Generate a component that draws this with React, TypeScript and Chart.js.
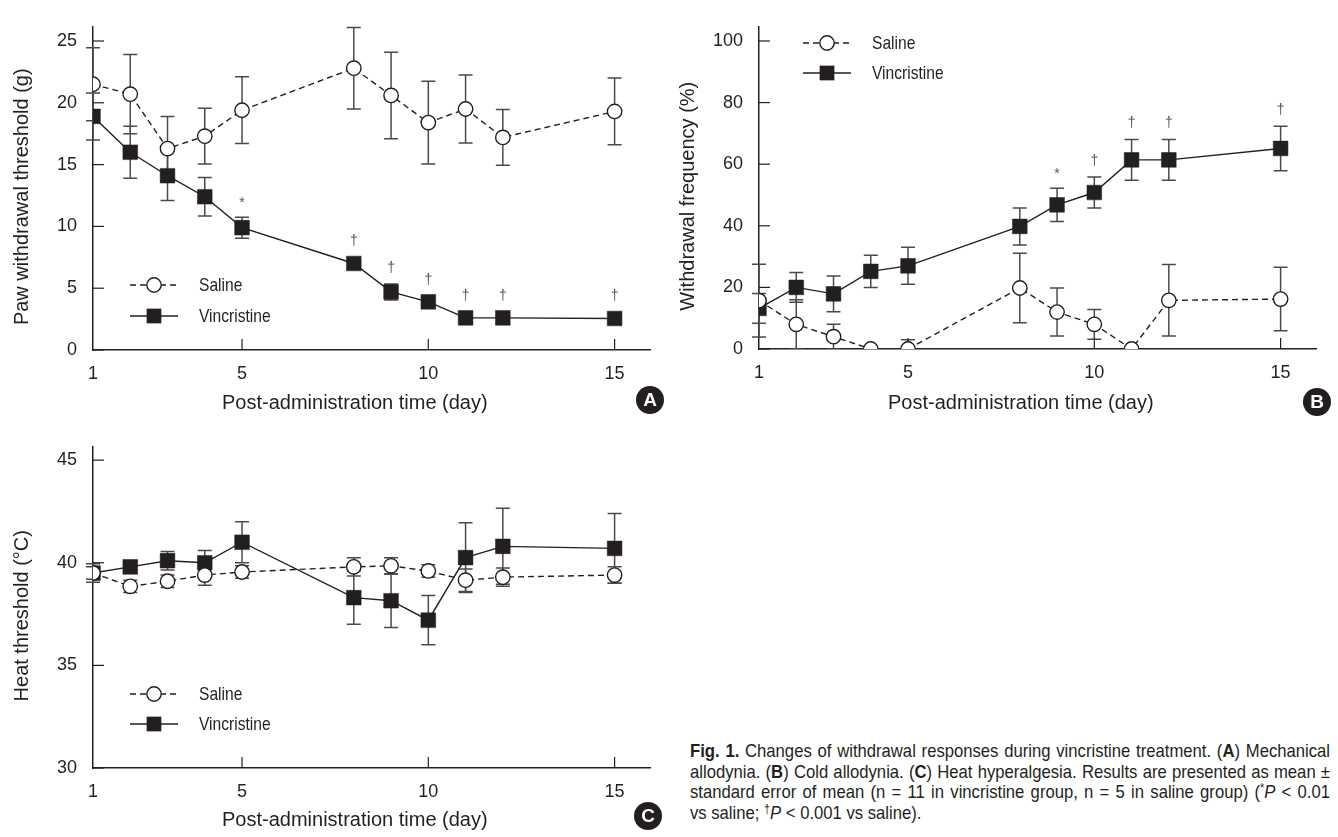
import React, { useEffect, useRef } from "react";
import { Chart, registerables } from "chart.js";

Chart.register(...registerables);

const FONT = "'Liberation Sans', Arial, Helvetica, sans-serif";
const INK = "#231f20";
const BAR = "#4a4a4a";
const NARROW_RATIO = 0.82;
const CAPTION_RATIO = 0.9;

// ---- shared x data ----
const days = [1, 2, 3, 4, 5, 8, 9, 10, 11, 12, 15];
const xTickValues = [1, 5, 10, 15];
const seriesLabels = ["Saline", "Vincristine"];
const xTitle = "Post-administration time (day)";

// ---- Panel A: mechanical allodynia ----
const aSalineMean = [21.5, 20.7, 16.3, 17.3, 19.4, 22.8, 20.6, 18.4, 19.5, 17.2, 19.3];
const aSalineSem = [2.95, 3.2, 2.6, 2.25, 2.7, 3.3, 3.5, 3.35, 2.75, 2.25, 2.7];
const aVincMean = [18.9, 16.0, 14.1, 12.4, 9.9, 7.0, 4.7, 3.9, 2.6, 2.6, 2.55];
const aVincSem = [1.9, 2.1, 2.0, 1.55, 0.85, 0.4, 0.65, 0.4, 0.35, 0.35, 0.35];
const aMarks = ["", "", "", "", "*", "†", "†", "†", "†", "†", "†"];
const aYTicks = [0, 5, 10, 15, 20, 25];
const aYTitle = "Paw withdrawal threshold (g)";

// ---- Panel B: cold allodynia ----
const bSalineMean = [15.7, 8.0, 4.0, 0, 0, 19.8, 12.0, 8.0, 0, 15.8, 16.2];
const bSalineSem = [11.8, 8.0, 4.0, 0, 3.0, 11.3, 7.8, 4.8, 0, 11.6, 10.3];
const bVincMean = [13.2, 20.0, 17.9, 25.2, 27.0, 39.8, 46.8, 50.8, 61.4, 61.4, 65.1];
const bVincSem = [4.8, 4.8, 5.8, 5.2, 6.0, 6.0, 5.4, 5.0, 6.6, 6.6, 7.2];
const bMarks = ["", "", "", "", "", "", "*", "†", "†", "†", "†"];
const bYTicks = [0, 20, 40, 60, 80, 100];
const bYTitle = "Withdrawal frequency (%)";

// ---- Panel C: heat hyperalgesia ----
const cSalineMean = [39.5, 38.85, 39.1, 39.4, 39.55, 39.8, 39.85, 39.6, 39.15, 39.3, 39.4];
const cSalineSem = [0.3, 0.3, 0.3, 0.5, 0.3, 0.45, 0.4, 0.3, 0.55, 0.45, 0.4];
const cVincMean = [39.5, 39.8, 40.1, 40.0, 41.0, 38.3, 38.15, 37.2, 40.25, 40.8, 40.7];
const cVincSem = [0.45, 0.3, 0.45, 0.6, 1.0, 1.3, 1.3, 1.2, 1.7, 1.85, 1.7];
const cMarks = ["", "", "", "", "", "", "", "", "", "", ""];
const cYTicks = [30, 35, 40, 45];
const cYTitle = "Heat threshold (°C)";

type PanelCfg = {
  yMin: number;
  yMax: number;
  yTicks: number[];
  yTitle: string;
  salMean: number[];
  salSem: number[];
  vinMean: number[];
  vinSem: number[];
  marks: string[];
  legend: { x: number; ys: number[] };
  badge: { x: number; y: number; letter: string };
  yAxisWidth: number;
  xAxisHeight: number;
  padRight: number;
  yTitlePad: number;
};

const errorBarPlugin = {
  id: "errorBars",
  beforeDatasetsDraw(chart: any, _args: any, opts: any) {
    const { ctx, chartArea } = chart;
    const yScale = chart.scales.y;
    ctx.save();
    ctx.beginPath();
    ctx.rect(chartArea.left - 12, chartArea.top - 2, chartArea.right - chartArea.left + 24, chartArea.bottom - chartArea.top + 2);
    ctx.clip();
    ctx.strokeStyle = BAR;
    ctx.lineWidth = 1.5;
    chart.data.datasets.forEach((ds: any, i: number) => {
      const meta = chart.getDatasetMeta(i);
      const errs: number[] = opts.errors[i];
      meta.data.forEach((pt: any, j: number) => {
        const e = errs[j];
        if (!e) return;
        const v = ds.data[j].y;
        const yT = yScale.getPixelForValue(v + e);
        const yB = yScale.getPixelForValue(v - e);
        const x = pt.x;
        ctx.beginPath();
        ctx.moveTo(x, yT);
        ctx.lineTo(x, yB);
        ctx.moveTo(x - 7, yT);
        ctx.lineTo(x + 7, yT);
        ctx.moveTo(x - 7, yB);
        ctx.lineTo(x + 7, yB);
        ctx.stroke();
      });
    });
    ctx.restore();
  },
};

const innerTicksPlugin = {
  id: "innerTicks",
  beforeDatasetsDraw(chart: any) {
    const { ctx, chartArea } = chart;
    const xs = chart.scales.x;
    const ys = chart.scales.y;
    ctx.save();
    ctx.strokeStyle = INK;
    ctx.lineWidth = 1.2;
    ys.ticks.forEach((t: any) => {
      const y = ys.getPixelForValue(t.value);
      ctx.beginPath();
      ctx.moveTo(chartArea.left, y);
      ctx.lineTo(chartArea.left + 11, y);
      ctx.stroke();
    });
    xs.ticks.forEach((t: any) => {
      if (t.value === xs.min) return;
      const x = xs.getPixelForValue(t.value);
      ctx.beginPath();
      ctx.moveTo(x, chartArea.bottom);
      ctx.lineTo(x, chartArea.bottom - 11);
      ctx.stroke();
    });
    ctx.restore();
  },
};

const legendPlugin = {
  id: "lineLegend",
  afterDraw(chart: any, _args: any, opts: any) {
    const { ctx } = chart;
    ctx.save();
    chart.data.datasets.forEach((ds: any, i: number) => {
      const y = opts.ys[i];
      const x0 = opts.x;
      const x1 = x0 + 48;
      const cx = (x0 + x1) / 2;
      ctx.strokeStyle = ds.borderColor;
      ctx.lineWidth = ds.borderWidth;
      ctx.setLineDash(ds.borderDash || []);
      ctx.beginPath();
      ctx.moveTo(x0, y);
      ctx.lineTo(x1, y);
      ctx.stroke();
      ctx.setLineDash([]);
      if (ds.pointStyle === "circle") {
        ctx.beginPath();
        ctx.arc(cx, y, ds.pointRadius, 0, Math.PI * 2);
        ctx.fillStyle = ds.pointBackgroundColor;
        ctx.fill();
        ctx.lineWidth = ds.pointBorderWidth;
        ctx.strokeStyle = ds.pointBorderColor;
        ctx.stroke();
      } else {
        const h = ds.pointRadius * Math.SQRT1_2;
        ctx.fillStyle = ds.pointBackgroundColor;
        ctx.fillRect(cx - h, y - h, 2 * h, 2 * h);
      }
      ctx.save();
      ctx.translate(x0 + 69, y + 1);
      ctx.scale(NARROW_RATIO, 1);
      ctx.fillStyle = INK;
      ctx.font = `19px ${FONT}`;
      ctx.textBaseline = "middle";
      ctx.textAlign = "left";
      ctx.fillText(ds.label, 0, 0);
      ctx.restore();
    });
    ctx.restore();
  },
};

const marksPlugin = {
  id: "sigMarks",
  afterDatasetsDraw(chart: any, _args: any, opts: any) {
    const { ctx } = chart;
    const ys = chart.scales.y;
    const meta = chart.getDatasetMeta(1);
    const ds = chart.data.datasets[1];
    ctx.save();
    ctx.fillStyle = "#555";
    ctx.textAlign = "center";
    ctx.textBaseline = "middle";
    ctx.font = `14px ${FONT}`;
    (opts.marks as string[]).forEach((m, j) => {
      if (!m) return;
      const v = ds.data[j].y;
      const e = opts.errors[j];
      const pt = meta.data[j];
      const y = Math.min(ys.getPixelForValue(v) - 22, ys.getPixelForValue(v + e) - 16);
      ctx.fillText(m, pt.x, y + (m === "*" ? 2 : 0));
    });
    ctx.restore();
  },
};

const badgePlugin = {
  id: "badge",
  afterDraw(chart: any, _args: any, opts: any) {
    const { ctx } = chart;
    ctx.save();
    ctx.beginPath();
    ctx.arc(opts.x, opts.y, 14, 0, Math.PI * 2);
    ctx.fillStyle = INK;
    ctx.fill();
    ctx.fillStyle = "#fff";
    ctx.font = `bold 19px ${FONT}`;
    ctx.textAlign = "center";
    ctx.textBaseline = "middle";
    ctx.fillText(opts.letter, opts.x, opts.y + 1);
    ctx.restore();
  },
};

function Panel(props: { cfg: PanelCfg; left: number; top: number; width: number; height: number }) {
  const ref = useRef<HTMLCanvasElement>(null);
  useEffect(() => {
    const c = props.cfg;
    const chart = new Chart(ref.current as HTMLCanvasElement, {
      type: "line",
      data: {
        datasets: [
          {
            label: seriesLabels[0],
            data: days.map((d, i) => ({ x: d, y: c.salMean[i] })),
            borderColor: INK,
            borderWidth: 1.4,
            borderDash: [6, 4],
            pointStyle: "circle",
            pointRadius: 7.2,
            pointBackgroundColor: "#ffffff",
            pointBorderColor: INK,
            pointBorderWidth: 1.4,
            fill: false,
            tension: 0,
          } as any,
          {
            label: seriesLabels[1],
            data: days.map((d, i) => ({ x: d, y: c.vinMean[i] })),
            borderColor: INK,
            borderWidth: 1.4,
            pointStyle: "rect",
            pointRadius: 10.4,
            pointBackgroundColor: INK,
            pointBorderColor: INK,
            pointBorderWidth: 0.5,
            fill: false,
            tension: 0,
          } as any,
        ],
      },
      options: {
        responsive: false,
        animation: false,
        events: [],
        layout: { padding: { left: 0, right: c.padRight, top: 10, bottom: 0 } },
        plugins: {
          legend: { display: false },
          tooltip: { enabled: false },
          errorBars: { errors: [c.salSem, c.vinSem] },
          lineLegend: c.legend,
          sigMarks: { marks: c.marks, errors: c.vinSem },
          badge: c.badge,
        } as any,
        scales: {
          x: {
            type: "linear",
            min: 1,
            max: 15.95,
            afterBuildTicks: (s: any) => {
              s.ticks = xTickValues.map((v) => ({ value: v }));
            },
            afterFit: (s: any) => {
              s.height = c.xAxisHeight;
            },
            grid: { display: false, drawTicks: false, tickLength: 0 },
            border: { display: true, color: INK, width: 1.5 },
            ticks: {
              font: { family: FONT, size: 18 },
              color: INK,
              padding: 13,
              maxRotation: 0,
              autoSkip: false,
              callback: (v: any) => String(v),
            },
            title: {
              display: true,
              text: xTitle + "\u00A0\u00A0\u00A0\u00A0\u00A0\u00A0",
              font: { family: FONT, size: 20 },
              color: INK,
              padding: { top: 0, bottom: 5 },
            },
          },
          y: {
            type: "linear",
            min: c.yMin,
            max: c.yMax,
            afterBuildTicks: (s: any) => {
              s.ticks = c.yTicks.map((v) => ({ value: v }));
            },
            afterFit: (s: any) => {
              s.width = c.yAxisWidth;
            },
            grid: { display: false, drawTicks: false, tickLength: 0 },
            border: { display: true, color: INK, width: 1.5 },
            ticks: {
              font: { family: FONT, size: 18 },
              color: INK,
              padding: 16,
              autoSkip: false,
              callback: (v: any) => String(v),
            },
            title: {
              display: true,
              text: c.yTitle + "\u00A0\u00A0\u00A0",
              font: { family: FONT, size: 20 },
              color: INK,
              padding: { top: c.yTitlePad, bottom: 0 },
            },
          },
        },
      } as any,
      plugins: [errorBarPlugin, innerTicksPlugin, marksPlugin, legendPlugin, badgePlugin],
    });
    return () => chart.destroy();
  }, []);
  return (
    <canvas
      ref={ref}
      width={props.width}
      height={props.height}
      style={{ position: "absolute", left: props.left, top: props.top, width: props.width, height: props.height }}
    />
  );
}

const cfgA: PanelCfg = {
  yMin: 0, yMax: 26.15, yTicks: aYTicks, yTitle: aYTitle,
  salMean: aSalineMean, salSem: aSalineSem, vinMean: aVincMean, vinSem: aVincSem, marks: aMarks,
  legend: { x: 130, ys: [285, 316] },
  badge: { x: 650, y: 400, letter: "A" },
  yAxisWidth: 93, xAxisHeight: 70, padRight: 20, yTitlePad: 10,
};

const cfgB: PanelCfg = {
  yMin: 0, yMax: 104.6, yTicks: bYTicks, yTitle: bYTitle,
  salMean: bSalineMean, salSem: bSalineSem, vinMean: bVincMean, vinSem: bVincSem, marks: bMarks,
  legend: { x: 133, ys: [43, 73] },
  badge: { x: 647, y: 402, letter: "B" },
  yAxisWidth: 89, xAxisHeight: 71, padRight: 22, yTitlePad: 6,
};

const cfgC: PanelCfg = {
  yMin: 30, yMax: 45.65, yTicks: cYTicks, yTitle: cYTitle,
  salMean: cSalineMean, salSem: cSalineSem, vinMean: cVincMean, vinSem: cVincSem, marks: cMarks,
  legend: { x: 130, ys: [274, 304] },
  badge: { x: 648, y: 396, letter: "C" },
  yAxisWidth: 93, xAxisHeight: 69, padRight: 20, yTitlePad: 10,
};

const CAPTION_W = 640;
const lineStyle: React.CSSProperties = {
  width: CAPTION_W / CAPTION_RATIO,
  textAlign: "justify",
  textAlignLast: "justify" as any,
  whiteSpace: "nowrap",
  transform: `scaleX(${CAPTION_RATIO})`,
  transformOrigin: "0 0",
  height: 20.5,
};
const lastLineStyle: React.CSSProperties = {
  whiteSpace: "nowrap",
  transform: `scaleX(${CAPTION_RATIO})`,
  transformOrigin: "0 0",
  height: 20.5,
};
const supStyle: React.CSSProperties = { fontSize: 12, position: "relative", top: -6, lineHeight: 0 };

export default function App() {
  return (
    <div style={{ position: "absolute", left: 0, top: 0, width: 1338, height: 837, background: "#fff", overflow: "hidden" }}>
      <Panel cfg={cfgA} left={0} top={0} width={670} height={420} />
      <Panel cfg={cfgB} left={670} top={0} width={668} height={420} />
      <Panel cfg={cfgC} left={0} top={420} width={670} height={417} />
      <div
        style={{
          position: "absolute",
          left: 690,
          top: 741,
          width: CAPTION_W,
          fontFamily: FONT,
          fontSize: 18.5,
          lineHeight: "20.5px",
          color: INK,
        }}
      >
        <div style={lineStyle}>
          <b>Fig. 1.</b> Changes of withdrawal responses during vincristine treatment. (<b>A</b>) Mechanical
        </div>
        <div style={lineStyle}>
          allodynia. (<b>B</b>) Cold allodynia. (<b>C</b>) Heat hyperalgesia. Results are presented as mean ±
        </div>
        <div style={lineStyle}>
          standard error of mean (n = 11 in vincristine group, n = 5 in saline group) (<span style={supStyle}>*</span>
          <i>P</i> &lt; 0.01
        </div>
        <div style={lastLineStyle}>
          vs saline; <span style={supStyle}>†</span>
          <i>P</i> &lt; 0.001 vs saline).
        </div>
      </div>
    </div>
  );
}
